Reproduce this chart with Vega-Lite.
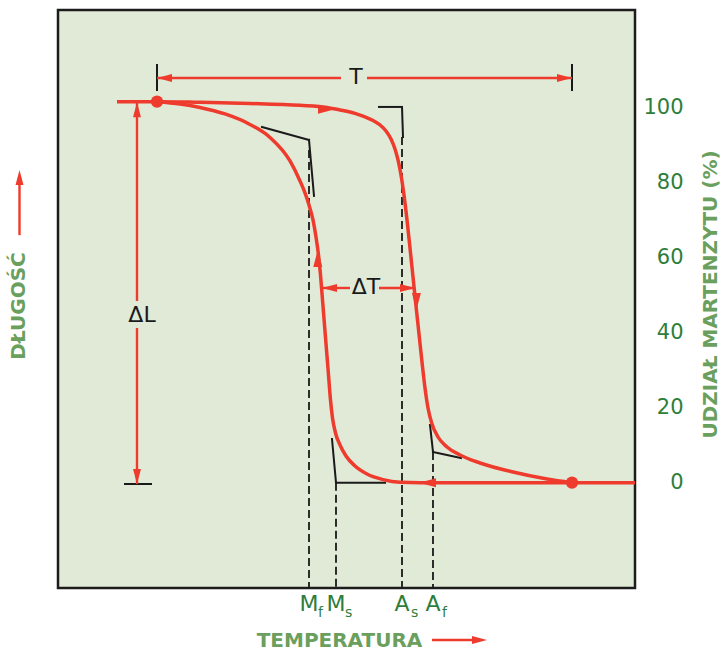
{
  "$schema": "https://vega.github.io/schema/vega-lite/v6.json",
  "width": 577,
  "height": 578,
  "autosize": "none",
  "padding": {"left": 58, "top": 10, "right": 88, "bottom": 63},
  "background": "#ffffff",
  "config": {
    "view": {"fill": "#e0ead7", "stroke": "#1c1c1c", "strokeWidth": 2.5},
    "font": "DejaVu Sans"
  },
  "datasets": {
    "curves": [
      {"curve": "heating", "x": 59, "y": 101.49},
      {"curve": "heating", "x": 99, "y": 101.49},
      {"curve": "heating", "x": 142, "y": 101.3},
      {"curve": "heating", "x": 192, "y": 101.0},
      {"curve": "heating", "x": 242, "y": 100.5},
      {"curve": "heating", "x": 269, "y": 99.95},
      {"curve": "heating", "x": 282, "y": 99.28},
      {"curve": "heating", "x": 297, "y": 98.35},
      {"curve": "heating", "x": 307, "y": 97.42},
      {"curve": "heating", "x": 315, "y": 96.48},
      {"curve": "heating", "x": 322, "y": 95.28},
      {"curve": "heating", "x": 328, "y": 93.69},
      {"curve": "heating", "x": 333, "y": 91.56},
      {"curve": "heating", "x": 337, "y": 88.89},
      {"curve": "heating", "x": 340, "y": 85.96},
      {"curve": "heating", "x": 343, "y": 81.97},
      {"curve": "heating", "x": 346, "y": 76.64},
      {"curve": "heating", "x": 349, "y": 69.98},
      {"curve": "heating", "x": 352, "y": 62.52},
      {"curve": "heating", "x": 355, "y": 54.8},
      {"curve": "heating", "x": 358, "y": 47.07},
      {"curve": "heating", "x": 361, "y": 39.61},
      {"curve": "heating", "x": 364, "y": 32.15},
      {"curve": "heating", "x": 367, "y": 25.22},
      {"curve": "heating", "x": 370, "y": 19.9},
      {"curve": "heating", "x": 374, "y": 15.64},
      {"curve": "heating", "x": 380, "y": 12.17},
      {"curve": "heating", "x": 389, "y": 9.51},
      {"curve": "heating", "x": 402, "y": 7.38},
      {"curve": "heating", "x": 422, "y": 5.25},
      {"curve": "heating", "x": 455, "y": 2.85},
      {"curve": "heating", "x": 489, "y": 0.99},
      {"curve": "heating", "x": 514, "y": 0},
      {"curve": "cooling", "x": 99, "y": 101.49},
      {"curve": "cooling", "x": 122, "y": 100.88},
      {"curve": "cooling", "x": 142, "y": 99.95},
      {"curve": "cooling", "x": 167, "y": 98.21},
      {"curve": "cooling", "x": 192, "y": 95.42},
      {"curve": "cooling", "x": 212, "y": 91.96},
      {"curve": "cooling", "x": 232, "y": 85.7},
      {"curve": "cooling", "x": 242, "y": 80.37},
      {"curve": "cooling", "x": 247, "y": 77.17},
      {"curve": "cooling", "x": 251, "y": 73.97},
      {"curve": "cooling", "x": 255, "y": 69.98},
      {"curve": "cooling", "x": 258, "y": 65.45},
      {"curve": "cooling", "x": 260.5, "y": 60.65},
      {"curve": "cooling", "x": 262.5, "y": 55.33},
      {"curve": "cooling", "x": 264.5, "y": 48.67},
      {"curve": "cooling", "x": 266.5, "y": 42.01},
      {"curve": "cooling", "x": 268.5, "y": 35.35},
      {"curve": "cooling", "x": 270.5, "y": 28.69},
      {"curve": "cooling", "x": 272.5, "y": 22.03},
      {"curve": "cooling", "x": 274.5, "y": 17.24},
      {"curve": "cooling", "x": 277.5, "y": 13.24},
      {"curve": "cooling", "x": 282, "y": 10.04},
      {"curve": "cooling", "x": 288, "y": 7.11},
      {"curve": "cooling", "x": 297, "y": 4.45},
      {"curve": "cooling", "x": 309, "y": 2.32},
      {"curve": "cooling", "x": 325, "y": 0.83},
      {"curve": "cooling", "x": 342, "y": 0.11},
      {"curve": "cooling", "x": 362, "y": 0},
      {"curve": "cooling", "x": 514, "y": 0},
      {"curve": "cooling", "x": 577, "y": 0}
    ],
    "dots": [
      {"x": 99, "y": 101.49},
      {"x": 514, "y": 0}
    ],
    "curveHeads": [
      {"x": 277, "y": 99.45, "dir": "right"},
      {"x": 358.4, "y": 46.0, "dir": "down"},
      {"x": 259.8, "y": 61.99, "dir": "up"},
      {"x": 361, "y": 0, "dir": "left"}
    ],
    "dimHeads": [
      {"x": 99, "y": 107.8, "dir": "left"},
      {"x": 514, "y": 107.8, "dir": "right"},
      {"x": 264, "y": 51.86, "dir": "left"},
      {"x": 357, "y": 51.86, "dir": "right"},
      {"x": 79, "y": 101.3, "dir": "up"},
      {"x": 79, "y": -0.35, "dir": "down"},
      {"x": 429, "y": -41.9, "dir": "right"},
      {"x": -38.5, "y": 83.3, "dir": "up"}
    ],
    "dimLines": [
      {"x": 99, "y": 107.8, "x2": 283, "y2": 107.8},
      {"x": 309, "y": 107.8, "x2": 514, "y2": 107.8},
      {"x": 264, "y": 51.86, "x2": 292, "y2": 51.86},
      {"x": 321, "y": 51.86, "x2": 357, "y2": 51.86},
      {"x": 79, "y": 101.3, "x2": 79, "y2": 48.4},
      {"x": 79, "y": 41.21, "x2": 79, "y2": -0.35},
      {"x": 374, "y": -41.9, "x2": 420, "y2": -41.9},
      {"x": -38.5, "y": 65.93, "x2": -38.5, "y2": 81}
    ],
    "guides": [
      {"x": 99, "y": 111.27, "x2": 99, "y2": 104.61},
      {"x": 514, "y": 111.27, "x2": 514, "y2": 104.61},
      {"x": 67, "y": -0.35, "x2": 93, "y2": -0.35},
      {"x": 204, "y": 94.75, "x2": 251, "y2": 91.29},
      {"x": 251, "y": 91.29, "x2": 256, "y2": 76.37},
      {"x": 321, "y": 100.08, "x2": 344, "y2": 100.08},
      {"x": 344, "y": 100.08, "x2": 345, "y2": 92.08},
      {"x": 274, "y": 11.64, "x2": 278, "y2": 0},
      {"x": 278, "y": 0, "x2": 327, "y2": 0},
      {"x": 372, "y": 15.37, "x2": 375, "y2": 8.18},
      {"x": 375, "y": 8.18, "x2": 403, "y2": 6.58}
    ],
    "dashes": [
      {"x": 251, "y": 88.62, "x2": 251, "y2": -28.05},
      {"x": 278, "y": 0, "x2": 278, "y2": -28.05},
      {"x": 344, "y": 92.08, "x2": 344, "y2": -28.05},
      {"x": 375, "y": 8.18, "x2": 375, "y2": -28.05}
    ],
    "ticks": [
      {"y": 0}, {"y": 20}, {"y": 40}, {"y": 60}, {"y": 80}, {"y": 100}
    ],
    "notes": [
      {"x": 298, "y": 108.0, "text": "T"},
      {"x": 308, "y": 52.13, "text": "ΔT"},
      {"x": 84, "y": 44.67, "text": "ΔL"}
    ],
    "transitions": [
      {"x": 251, "y": -34.18, "main": "M", "sub": "f"},
      {"x": 278, "y": -34.18, "main": "M", "sub": "s"},
      {"x": 344, "y": -34.18, "main": "A", "sub": "s"},
      {"x": 375, "y": -34.18, "main": "A", "sub": "f"}
    ],
    "sideTitle": [
      {"x": -39.5, "y": 47.07, "text": "DŁUGOŚĆ"}
    ]
  },
  "encoding": {
    "x": {
      "field": "x",
      "type": "quantitative",
      "scale": {"domain": [0, 577], "nice": false, "zero": false},
      "axis": {
        "domain": false,
        "ticks": false,
        "labels": false,
        "grid": false,
        "title": "TEMPERATURA",
        "titleFont": "DejaVu Sans",
        "titleFontSize": 20,
        "titleFontWeight": "bold",
        "titleColor": "#6a9f5e",
        "titleX": 281,
        "titleY": 52,
        "titleAlign": "center",
        "titleBaseline": "middle"
      }
    },
    "y": {
      "field": "y",
      "type": "quantitative",
      "scale": {"domain": [-28.05, 125.9], "nice": false, "zero": false},
      "axis": {
        "orient": "right",
        "values": [0, 20, 40, 60, 80, 100],
        "domain": false,
        "ticks": false,
        "tickSize": 0,
        "grid": false,
        "labelFont": "DejaVu Sans",
        "labelFontSize": 21,
        "labelColor": "#2e7d3b",
        "labelAlign": "right",
        "labelBaseline": "middle",
        "labelPadding": 48,
        "labelFlush": false,
        "labelOverlap": false,
        "title": "UDZIAŁ MARTENZYTU (%)",
        "titleFont": "DejaVu Sans",
        "titleFontSize": 20,
        "titleFontWeight": "bold",
        "titleColor": "#6a9f5e",
        "titleAngle": 270,
        "titleX": 75,
        "titleY": 284,
        "titleAlign": "center",
        "titleBaseline": "middle"
      }
    }
  },
  "layer": [
    {
      "data": {"name": "ticks"},
      "mark": {"type": "rule", "color": "#6e6e6e", "strokeWidth": 1.3},
      "encoding": {"x": {"datum": 549}, "x2": {"datum": 577}}
    },
    {
      "data": {"name": "dashes"},
      "mark": {"type": "rule", "color": "#1a1a1a", "strokeWidth": 1.8, "strokeDash": [8, 4]},
      "encoding": {"x2": {"field": "x2"}, "y2": {"field": "y2"}}
    },
    {
      "data": {"name": "guides"},
      "mark": {"type": "rule", "color": "#1a1a1a", "strokeWidth": 2, "strokeCap": "square"},
      "encoding": {"x2": {"field": "x2"}, "y2": {"field": "y2"}}
    },
    {
      "data": {"name": "dimLines"},
      "mark": {"type": "rule", "color": "#ee3b2d", "strokeWidth": 2.4},
      "encoding": {"x2": {"field": "x2"}, "y2": {"field": "y2"}}
    },
    {
      "data": {"name": "curves"},
      "mark": {"type": "line", "color": "#ee3b2d", "strokeWidth": 3.5, "interpolate": "monotone"},
      "encoding": {"detail": {"field": "curve"}}
    },
    {
      "data": {"name": "dots"},
      "mark": {"type": "point", "shape": "circle", "filled": true, "color": "#ee3b2d", "opacity": 1, "size": 150}
    },
    {
      "data": {"name": "dimHeads"},
      "mark": {"type": "point", "filled": true, "color": "#ee3b2d", "opacity": 1, "size": 225, "strokeWidth": 0},
      "encoding": {
        "shape": {
          "field": "dir",
          "type": "nominal",
          "legend": null,
          "scale": {
            "domain": ["right", "left", "up", "down"],
            "range": [
              "M0,0L-2,-0.53L-2,0.53Z",
              "M0,0L2,-0.53L2,0.53Z",
              "M0,0L-0.53,2L0.53,2Z",
              "M0,0L-0.53,-2L0.53,-2Z"
            ]
          }
        }
      }
    },
    {
      "data": {"name": "curveHeads"},
      "mark": {"type": "point", "filled": true, "color": "#ee3b2d", "opacity": 1, "size": 289, "strokeWidth": 0},
      "encoding": {
        "shape": {
          "field": "dir",
          "type": "nominal",
          "legend": null,
          "scale": {
            "domain": ["right", "left", "up", "down"],
            "range": [
              "M0,0L-2,-0.59L-2,0.59Z",
              "M0,0L2,-0.59L2,0.59Z",
              "M0,0L-0.59,2L0.59,2Z",
              "M0,0L-0.59,-2L0.59,-2Z"
            ]
          }
        }
      }
    },
    {
      "data": {"name": "notes"},
      "mark": {"type": "text", "font": "DejaVu Sans", "fontSize": 22, "color": "#1a1a1a", "align": "center", "baseline": "middle"},
      "encoding": {"text": {"field": "text"}}
    },
    {
      "data": {"name": "transitions"},
      "mark": {"type": "text", "font": "DejaVu Sans", "fontSize": 22, "color": "#2e7d3b", "align": "center", "baseline": "alphabetic"},
      "encoding": {"text": {"field": "main"}}
    },
    {
      "data": {"name": "transitions"},
      "mark": {"type": "text", "font": "DejaVu Sans", "fontSize": 14, "color": "#2e7d3b", "align": "left", "baseline": "alphabetic", "dx": 9, "dy": 6},
      "encoding": {"text": {"field": "sub"}}
    },
    {
      "data": {"name": "sideTitle"},
      "mark": {"type": "text", "font": "DejaVu Sans", "fontSize": 20, "fontWeight": "bold", "color": "#6a9f5e", "align": "center", "baseline": "middle", "angle": 270},
      "encoding": {"text": {"field": "text"}}
    }
  ]
}
